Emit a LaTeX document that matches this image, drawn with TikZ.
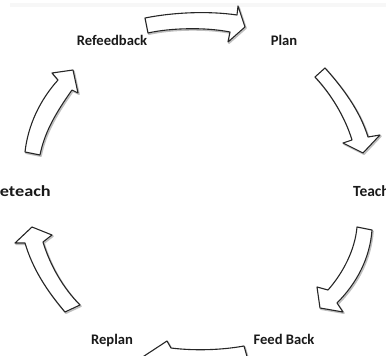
\documentclass[tikz,border=0pt]{standalone}
\usepackage{fontspec}
\setmainfont{Carlito}
\begin{document}
\begin{tikzpicture}[x=1pt,y=-1pt,
  arr/.style={draw=black!85, fill=white, line width=1.1pt, line join=round},
  shad/.style={draw=black!25, line width=1.6pt, line join=round, shift={(1,1.2)}},
  lbl/.style={font=\bfseries\fontsize{14.6}{17}\selectfont, text=black!90, inner sep=0pt},
  lblb/.style={font=\bfseries\fontsize{15.5}{18}\selectfont, text=black!90, inner sep=0pt}]
\useasboundingbox (0,0) rectangle (386,356);
\clip (0,0) rectangle (386,356);
\fill[black!3] (10,3) rectangle (386,7);

% labels
\node[lbl, anchor=base] (refeedback) at (112,45.5) {Refeedback};
\node[lbl, anchor=base] (plan) at (284,45.5) {Plan};
\node[lblb, anchor=base east] (reteach) at (51,196) {\scalebox{1.18}[1]{Reteach}};
\node[lblb, anchor=base west] (teach) at (353,196) {Teach};
\node[lbl, anchor=base] (replan) at (112,344) {Replan};
\node[lbl, anchor=base] (feedback) at (284,344) {Feed Back};

% arrow shapes
\def\arrA{(145,18) .. controls (175,12) and (210,11) .. (237,15) -- (238,6) -- (245,27) -- (228,42) -- (230,32) .. controls (205,27) and (170,28) .. (148,33) -- cycle}
\def\arrB{(315,77) -- (325,68) .. controls (343,88) and (360,111) .. (368,137) -- (380,135) -- (363,153) -- (343,143) -- (352,140) .. controls (345,117) and (331,94) .. (315,77) -- cycle}
\def\arrC{(357,227) -- (372,230) .. controls (370,258) and (357,283) .. (337,303) -- (343,312) -- (320,308) -- (317,287) -- (328,290) .. controls (343,273) and (355,250) .. (357,227) -- cycle}
\def\arrD{(244,346) -- (248,360) .. controls (225,364) and (200,364) .. (176,362) -- (172,372) -- (135,362) -- (167,341) -- (171,348) .. controls (195,351) and (222,350) .. (244,346) -- cycle}
\def\arrE{(65,312) .. controls (48,292) and (33,270) .. (25,243) -- (15,243) -- (32,227) -- (52,235) -- (43,242) .. controls (50,265) and (63,288) .. (80,305) -- cycle}
\def\arrF{(25,152) .. controls (28,125) and (40,100) .. (58,80) -- (52,73) -- (73,70) -- (78,93) -- (72,90) .. controls (58,110) and (45,130) .. (40,155) -- cycle}

\foreach \p in {\arrA,\arrB,\arrC,\arrD,\arrE,\arrF}{
  \draw[shad] \p;
}
\foreach \p in {\arrA,\arrB,\arrC,\arrD,\arrE,\arrF}{
  \draw[arr] \p;
}
\end{tikzpicture}
\end{document}
